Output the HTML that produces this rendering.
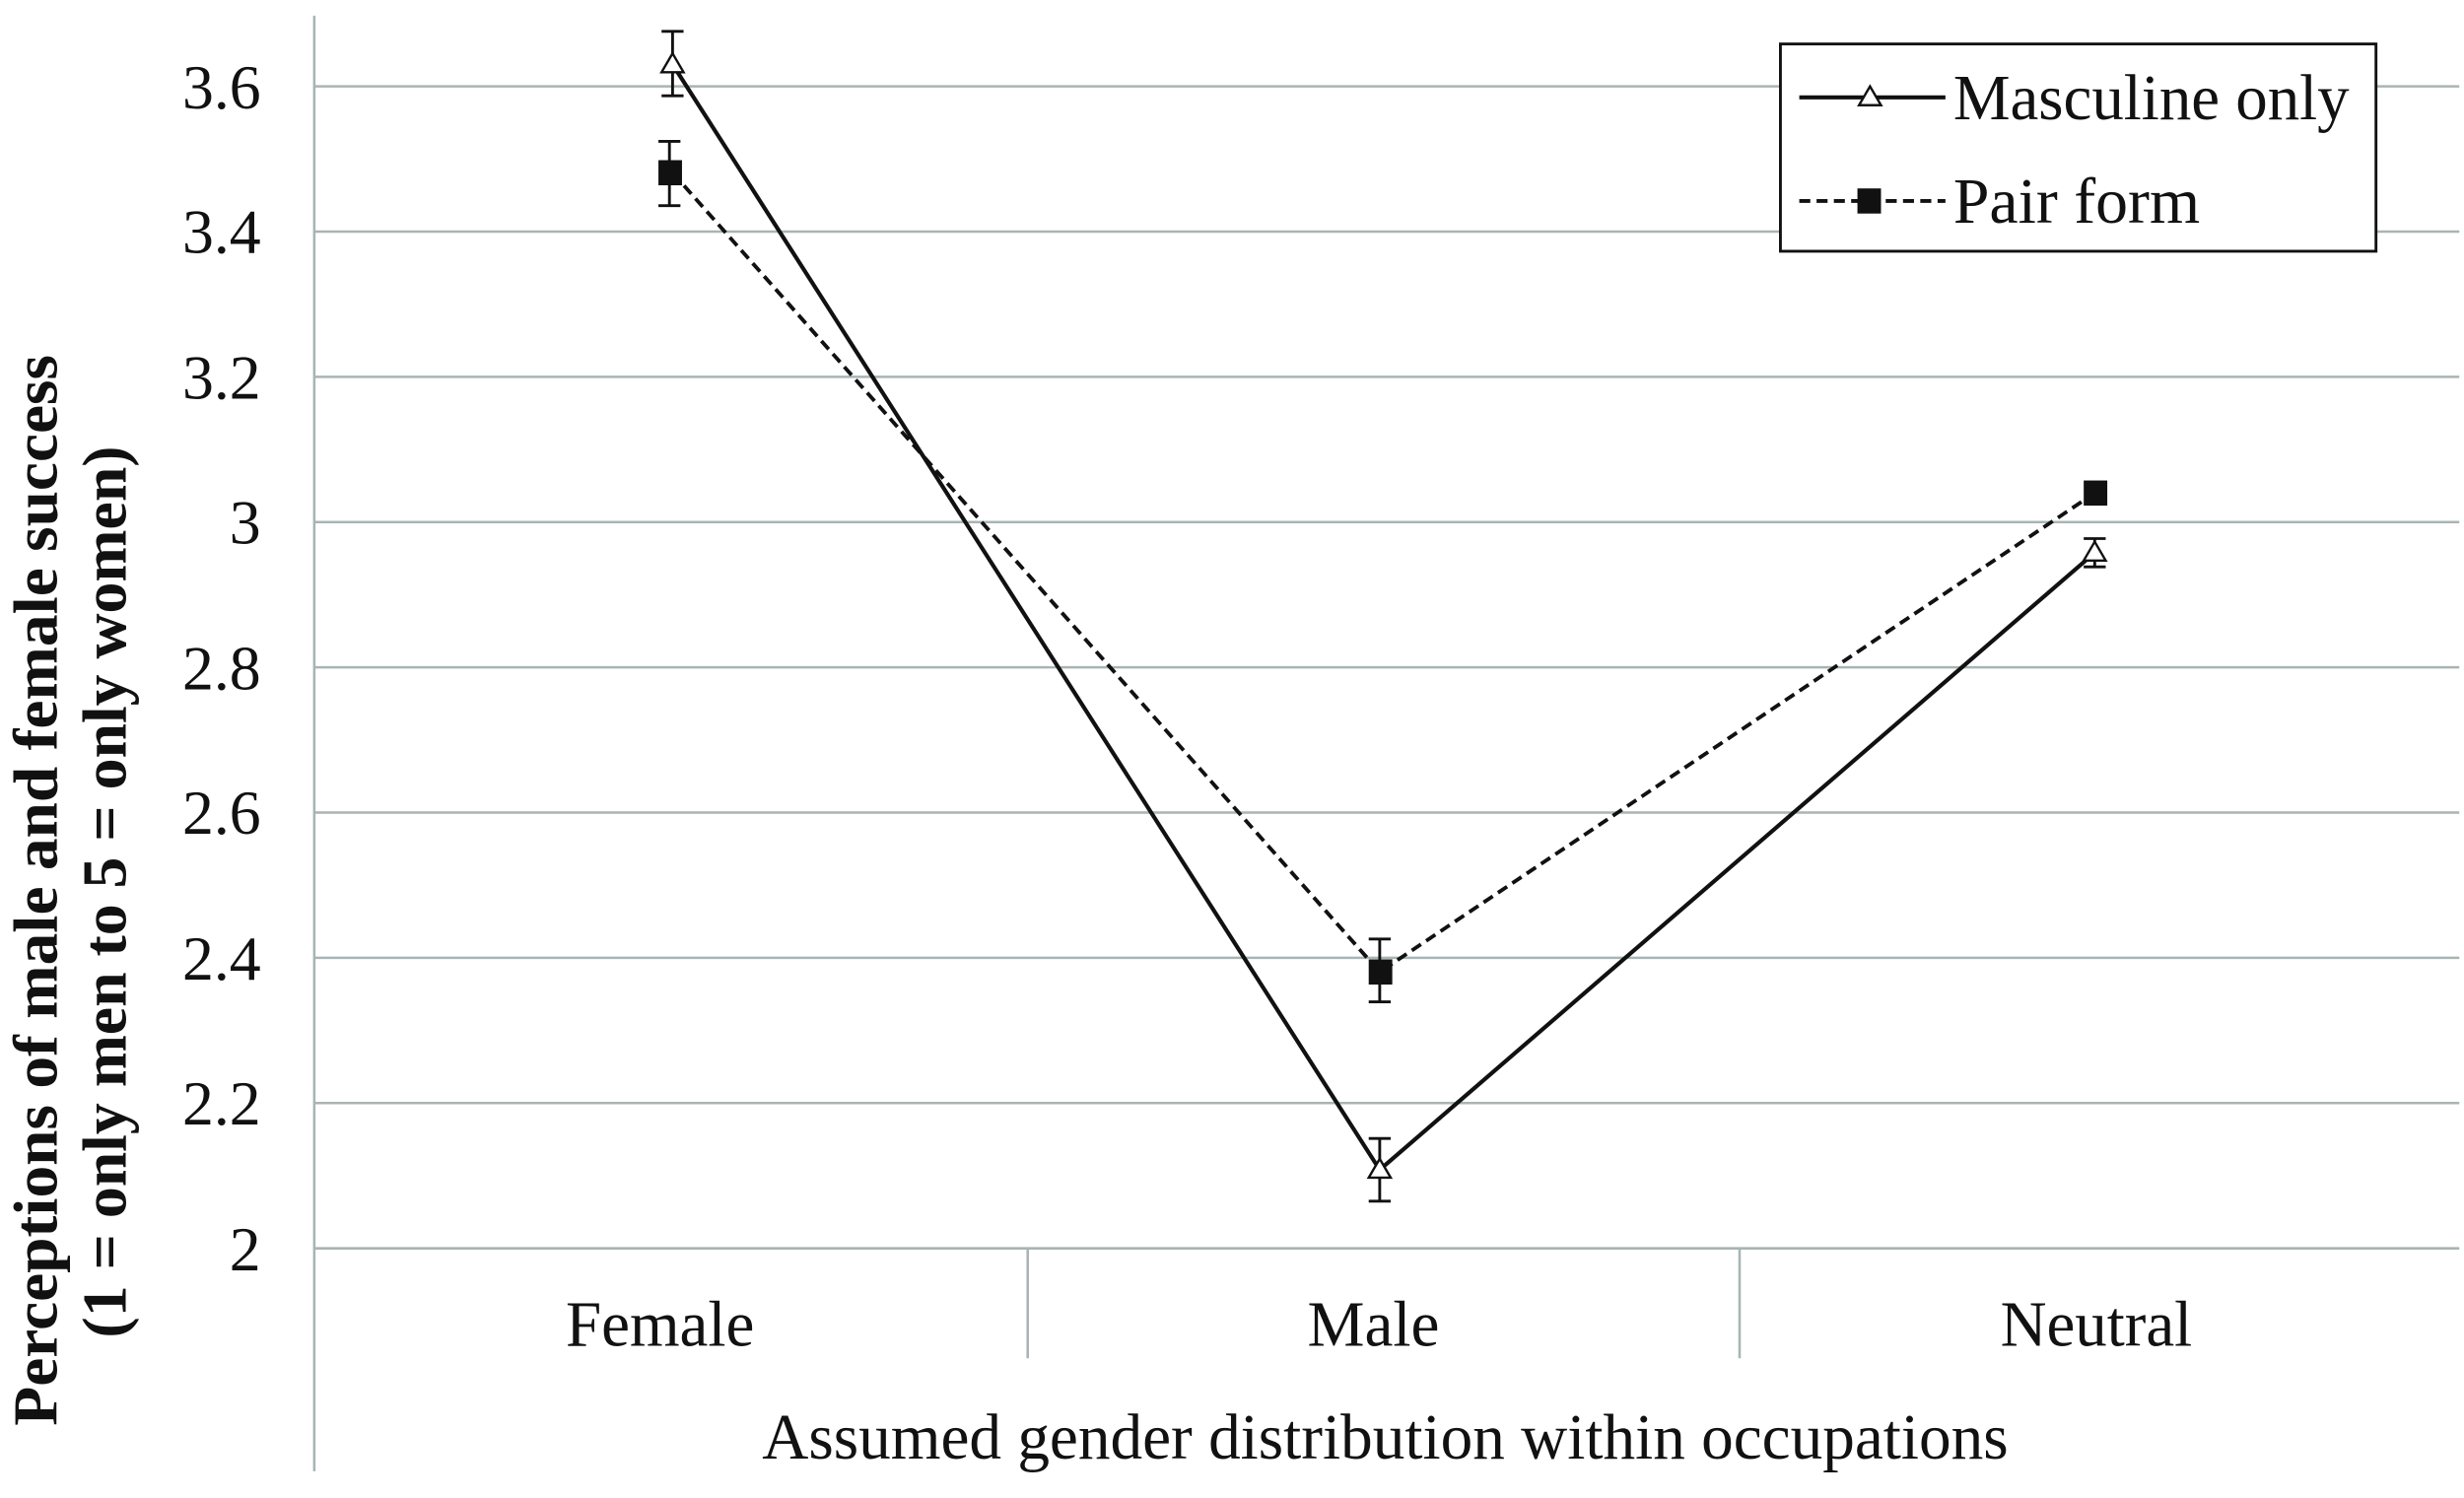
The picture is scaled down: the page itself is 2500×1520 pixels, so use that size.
<!DOCTYPE html>
<html><head><meta charset="utf-8"><style>
html,body{margin:0;padding:0;background:#fff;}
svg{display:block;}
text{font-family:"Liberation Serif",serif;fill:#111;}
</style></head><body>
<svg width="2500" height="1520" viewBox="0 0 1568 954" preserveAspectRatio="none" xmlns="http://www.w3.org/2000/svg">
<rect width="1568" height="954" fill="#fff"/>
<g stroke="#a9b4b4" stroke-width="1.6">
<line x1="200" y1="55" x2="1565" y2="55"/>
<line x1="200" y1="147.5" x2="1565" y2="147.5"/>
<line x1="200" y1="240" x2="1565" y2="240"/>
<line x1="200" y1="332.5" x2="1565" y2="332.5"/>
<line x1="200" y1="425" x2="1565" y2="425"/>
<line x1="200" y1="517.5" x2="1565" y2="517.5"/>
<line x1="200" y1="610" x2="1565" y2="610"/>
<line x1="200" y1="702.5" x2="1565" y2="702.5"/>
<line x1="200" y1="795" x2="1565" y2="795"/>
<line x1="200" y1="10" x2="200" y2="937"/>
<line x1="654" y1="795" x2="654" y2="865"/>
<line x1="1107" y1="795" x2="1107" y2="865"/>
</g>
<g font-size="40" text-anchor="end">
<text x="166" y="69">3.6</text>
<text x="166" y="161">3.4</text>
<text x="166" y="254">3.2</text>
<text x="166" y="346">3</text>
<text x="166" y="439">2.8</text>
<text x="166" y="531">2.6</text>
<text x="166" y="624">2.4</text>
<text x="166" y="716">2.2</text>
<text x="166" y="809">2</text>
</g>
<g font-size="41">
<text x="360" y="857" textLength="120" lengthAdjust="spacingAndGlyphs">Female</text>
<text x="832" y="857" textLength="84" lengthAdjust="spacingAndGlyphs">Male</text>
<text x="1273" y="857" textLength="122" lengthAdjust="spacingAndGlyphs">Neutral</text>
<text x="485" y="929" textLength="793" lengthAdjust="spacingAndGlyphs">Assumed gender distribution within occupations</text>
</g>
<g font-size="40" font-weight="bold">
<text transform="translate(36,908) rotate(-90)" textLength="682" lengthAdjust="spacingAndGlyphs">Perceptions of male and female success</text>
<text transform="translate(80,852) rotate(-90)" textLength="568" lengthAdjust="spacingAndGlyphs">(1 = only men to 5 = only women)</text>
</g>
<polyline points="428,110 878,619 1333,314" fill="none" stroke="#111" stroke-width="2.4" stroke-dasharray="7,4"/>
<polyline points="428,41 878,745 1333,352" fill="none" stroke="#111" stroke-width="2.6"/>
<g stroke="#111" stroke-width="1.8">
<line x1="428" y1="20" x2="428" y2="61"/><line x1="421" y1="20" x2="435" y2="20"/><line x1="421" y1="61" x2="435" y2="61"/>
<line x1="878" y1="725" x2="878" y2="765"/><line x1="871" y1="725" x2="885" y2="725"/><line x1="871" y1="765" x2="885" y2="765"/>
<line x1="1333" y1="343" x2="1333" y2="361"/><line x1="1326" y1="343" x2="1340" y2="343"/><line x1="1326" y1="361" x2="1340" y2="361"/>
<line x1="426" y1="90" x2="426" y2="131"/><line x1="419" y1="90" x2="433" y2="90"/><line x1="419" y1="131" x2="433" y2="131"/>
<line x1="878" y1="598" x2="878" y2="638"/><line x1="871" y1="598" x2="885" y2="598"/><line x1="871" y1="638" x2="885" y2="638"/>
</g>
<g fill="#111">
<rect x="419" y="102" width="15" height="16"/>
<rect x="871" y="611" width="15" height="16"/>
<rect x="1326" y="306" width="15" height="16"/>
</g>
<g fill="#fff" stroke="#111" stroke-width="1.5">
<polygon points="428,34 435,46 421,46"/>
<polygon points="878,738 885,750 871,750"/>
<polygon points="1333,345 1340,357 1326,357"/>
</g>
<rect x="1133" y="28" width="379" height="132" fill="#fff" stroke="#111" stroke-width="1.8"/>
<line x1="1145" y1="62" x2="1238" y2="62" stroke="#111" stroke-width="2.6"/>
<polygon points="1190,55 1197,67 1183,67" fill="#fff" stroke="#111" stroke-width="1.5"/>
<line x1="1145" y1="128" x2="1238" y2="128" stroke="#111" stroke-width="2.4" stroke-dasharray="7,4"/>
<rect x="1182" y="120" width="15" height="16" fill="#111"/>
<g font-size="41">
<text x="1243" y="76" textLength="252" lengthAdjust="spacingAndGlyphs">Masculine only</text>
<text x="1243" y="142" textLength="157" lengthAdjust="spacingAndGlyphs">Pair form</text>
</g>
</svg>
</body></html>
